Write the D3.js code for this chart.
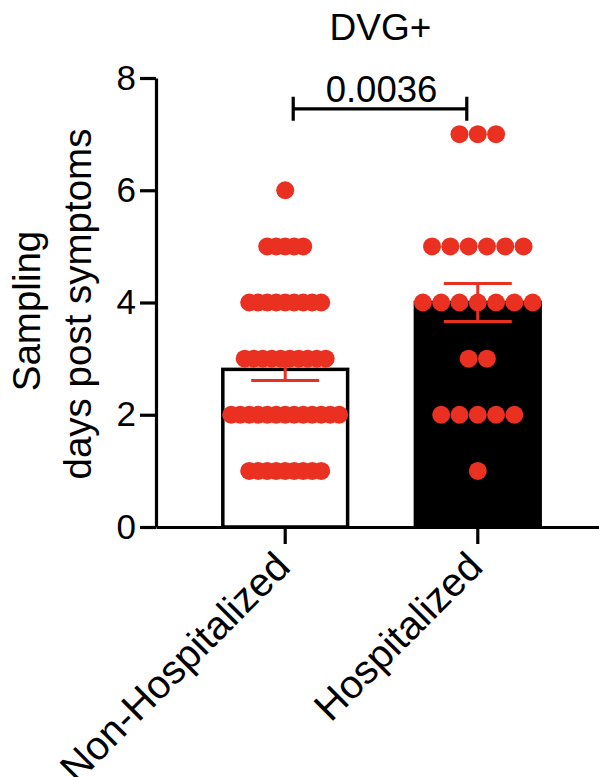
<!DOCTYPE html>
<html>
<head>
<meta charset="utf-8">
<script src="https://cdn.jsdelivr.net/npm/d3@7"></script>
<style>
body{margin:0;background:#fff;}
svg{display:block;}
text{font-family:"Liberation Sans",Arial,Helvetica,sans-serif;fill:#000;}
</style>
</head>
<body>
<svg width="599" height="777"></svg>
<script>
// values
var groups = ["Non-Hospitalized", "Hospitalized"];
var days = [1, 2, 3, 4, 5, 6, 7];
var nonHospCounts = [9, 13, 10, 9, 5, 1, 0];   // dots per day row
var hospCounts = [1, 5, 2, 7, 6, 0, 3];
var yTicks = [0, 2, 4, 6, 8];
var pValue = "0.0036";
var title = "DVG+";

var red = "#ea3121";
var svg = d3.select("svg");

// expand the row counts into the per-sample values
function expand(counts){
	var vals = [];
	days.forEach(function(d, i){ for (var k = 0; k < counts[i]; k++) vals.push(d); });
	return vals;
}
var samples = {
	"Non-Hospitalized": expand(nonHospCounts),
	"Hospitalized": expand(hospCounts)
};

var y = d3.scaleLinear().domain([0, 8]).range([527, 78]);
var x = d3.scaleBand().domain(groups)
	.range([156, 607])
	.paddingInner(0.352)
	.paddingOuter(0.347);

var stats = groups.map(function(g){
	var v = samples[g];
	var sd = d3.deviation(v);
	return {group: g, mean: d3.mean(v), sem: sd / Math.sqrt(v.length)};
});

// bars
var fills = {"Non-Hospitalized": "#fff", "Hospitalized": "#000"};
svg.append("g").selectAll("rect")
	.data(stats)
	.enter().append("rect")
	.attr("x", function(d){ return x(d.group); })
	.attr("width", x.bandwidth())
	.attr("y", function(d){ return y(d.mean); })
	.attr("height", function(d){ return y(0) - y(d.mean); })
	.attr("fill", function(d){ return fills[d.group]; })
	.attr("stroke", "#000")
	.attr("stroke-width", 3.5);

// dots, centred on each band, one row per day
var spread = {"Non-Hospitalized": 9, "Hospitalized": 18.3};
var points = [];
groups.forEach(function(g){
	var counts = g == "Hospitalized" ? hospCounts : nonHospCounts;
	var cx = x(g) + x.bandwidth() / 2;
	days.forEach(function(d, i){
		var n = counts[i];
		for (var k = 0; k < n; k++){
			points.push({x: cx + (k - (n - 1) / 2) * spread[g], v: d});
		}
	});
});
svg.append("g").selectAll("circle")
	.data(points)
	.enter().append("circle")
	.attr("cx", function(d){ return d.x; })
	.attr("cy", function(d){ return y(d.v); })
	.attr("r", 9)
	.attr("fill", red);

// error bars (mean +- sem)
var eb = svg.append("g").attr("stroke", red).attr("stroke-width", 3).attr("fill", "none");
stats.forEach(function(d){
	var cx = x(d.group) + x.bandwidth() / 2;
	eb.append("line").attr("x1", cx).attr("x2", cx)
		.attr("y1", y(d.mean - d.sem)).attr("y2", y(d.mean + d.sem));
	[d.mean - d.sem, d.mean + d.sem].forEach(function(v){
		eb.append("line").attr("x1", cx - 34).attr("x2", cx + 34)
			.attr("y1", y(v)).attr("y2", y(v));
	});
});

// axes
var yAxis = svg.append("g")
	.attr("transform", "translate(156,0)")
	.call(d3.axisLeft(y).tickValues(yTicks).tickSize(16).tickSizeOuter(0).tickPadding(4));
var xAxis = svg.append("g")
	.attr("transform", "translate(0,527)")
	.call(d3.axisBottom(x).tickSize(17).tickSizeOuter(0).tickFormat(""));
[yAxis, xAxis].forEach(function(a){
	a.selectAll("path, line").attr("stroke", "#000").attr("stroke-width", 3.2);
});
yAxis.selectAll("text").attr("font-size", 35).attr("fill", "#000")
	.attr("font-family", "Liberation Sans, Arial, sans-serif");

// rotated category labels
svg.append("g").selectAll("text")
	.data(groups)
	.enter().append("text")
	.attr("transform", function(d){
		var cx = x(d) + x.bandwidth() / 2;
		return "translate(" + (cx + 7) + ",569) rotate(-45)";
	})
	.attr("text-anchor", "end")
	.attr("font-size", 40)
	.text(function(d){ return d; });

// y title, two lines
svg.append("text")
	.attr("transform", "translate(40,311) rotate(-90)")
	.attr("text-anchor", "middle")
	.attr("font-size", 38.5)
	.text("Sampling");
svg.append("text")
	.attr("transform", "translate(91,304) rotate(-90)")
	.attr("text-anchor", "middle")
	.attr("font-size", 38.5)
	.text("days post symptoms");

// title
var c1 = x(groups[0]) + x.bandwidth() / 2, c2 = x(groups[1]) + x.bandwidth() / 2;
svg.append("text")
	.attr("x", (c1 + c2) / 2 - 1).attr("y", 40)
	.attr("text-anchor", "middle")
	.attr("font-size", 37)
	.text(title);

// significance bracket
var by = y(7.45);
svg.append("path")
	.attr("d", "M" + (c1 + 8) + "," + (by - 12) + "V" + (by + 12) + "M" + (c1 + 8) + "," + by +
		"H" + (c2 - 11) + "M" + (c2 - 11) + "," + (by - 12) + "V" + (by + 12))
	.attr("stroke", "#000").attr("stroke-width", 3.2).attr("fill", "none");
svg.append("text")
	.attr("x", (c1 + c2) / 2).attr("y", 102)
	.attr("text-anchor", "middle")
	.attr("font-size", 36.5)
	.text(pValue);
</script>
</body>
</html>
